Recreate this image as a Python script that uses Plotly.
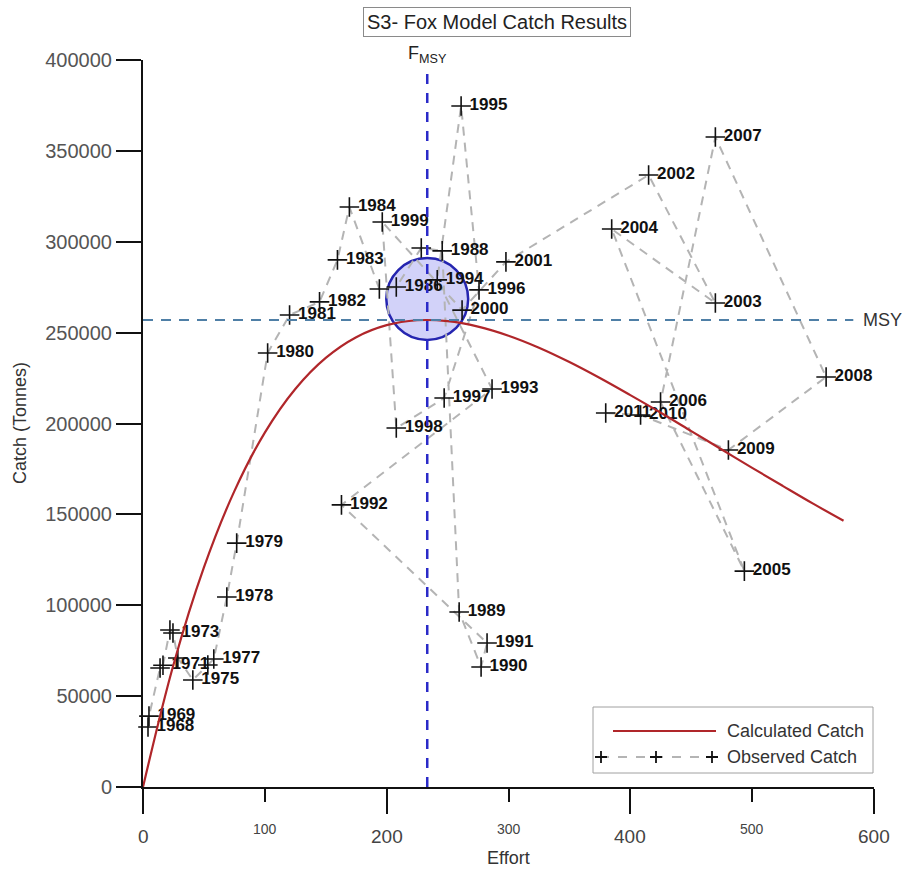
import plotly.graph_objects as go

# ---------------- data ----------------
years = list(range(1968, 2012))
effort = [4.1, 4.9, 14.0, 16.4, 22.1, 24.6, 28.6, 40.9, 53.2, 58.1, 68.8, 76.9,
          102.3, 120.3, 144.9, 159.6, 169.4, 194.0, 207.9, 228.4, 245.6, 259.5,
          277.5, 282.4, 162.9, 286.5, 241.5, 261.1, 275.8, 247.2, 207.9, 196.4,
          261.9, 297.9, 415.0, 469.8, 384.7, 493.6, 424.8, 469.8, 560.7, 480.5,
          408.4, 379.8]
catch = [33000, 39000, 65500, 67000, 86400, 84700, 71000, 58900, 67100, 70400,
         104500, 134200, 238800, 259700, 266900, 290000, 319100, 274000, 275100,
         296600, 295000, 96300, 66000, 79200, 155200, 219000, 279000, 374700,
         273500, 214000, 197500, 310900, 262400, 288900, 336700, 266300, 307000,
         118800, 211800, 357600, 225600, 185400, 204700, 205800]
hidden_labels = [1970, 1972, 1974, 1976, 1985, 1987]

calc_effort = [0, 25, 50, 75, 100, 125, 150, 175, 200, 225, 250, 275, 300, 325,
               350, 375, 400, 425, 450, 475, 500, 525, 550, 575]
calc_catch = [0, 67250, 120800, 162800, 195000, 219000, 236100, 247500, 254100,
              256800, 256300, 253300, 248300, 241700, 233800, 225000, 215600,
              205900, 195800, 185700, 175600, 165700, 155900, 146500]

F_MSY = 233.3
MSY = 257000
MSY_line_end = 583
FMSY_line_top = 394000
circle_center = (233.3, 268500)
circle_radius = (33.6, 22560)

x_major_ticks = [0, 200, 400, 600]
x_minor_ticks = [100, 300, 500]
y_ticks = [0, 50000, 100000, 150000, 200000, 250000, 300000, 350000, 400000]

# ---------------- layout geometry ----------------
W, H = 912, 872
L, R, T, B = 143, 38, 60, 85
PW, PH = W - L - R, H - T - B


def px(xp):
    return (xp - L) / PW


def py(yp):
    return (H - B - yp) / PH


FONT = "Liberation Sans, Arial, sans-serif"
lab_x = [e for e, y in zip(effort, years) if y not in hidden_labels]
lab_y = [c for c, y in zip(catch, years) if y not in hidden_labels]
lab_t = [str(y) for y in years if y not in hidden_labels]

fig = go.Figure()

fig.add_trace(go.Scatter(
    x=effort, y=catch, mode="lines+markers",
    line=dict(color="#b4b4b4", width=2, dash="9px,7px"),
    marker=dict(symbol="cross-thin", size=14, line=dict(color="#111", width=1.6)),
    showlegend=False, cliponaxis=False))

fig.add_trace(go.Scatter(
    x=lab_x, y=lab_y, mode="markers+text", text=lab_t, textposition="middle right",
    marker=dict(size=12, opacity=0),
    textfont=dict(family=FONT, size=17, color="#111", weight="bold"),
    showlegend=False, cliponaxis=False))

fig.add_trace(go.Scatter(
    x=calc_effort, y=calc_catch, mode="lines", line_shape="spline",
    line=dict(color="#b0262a", width=2.2), showlegend=False))

shapes = []
shapes.append(dict(type="line", xref="x", yref="y", x0=0, x1=MSY_line_end, y0=MSY, y1=MSY,
                   line=dict(color="#4f7fa6", width=2, dash="10px,8px")))
shapes.append(dict(type="line", xref="x", yref="y", x0=F_MSY, x1=F_MSY, y0=0, y1=FMSY_line_top,
                   line=dict(color="#2a2ac8", width=2.5, dash="10px,9px")))
shapes.append(dict(type="circle", xref="x", yref="y", layer="below",
                   x0=circle_center[0] - circle_radius[0], x1=circle_center[0] + circle_radius[0],
                   y0=circle_center[1] - circle_radius[1], y1=circle_center[1] + circle_radius[1],
                   fillcolor="rgba(180,180,245,0.6)", line=dict(color="#2525b0", width=2.5)))

# manual legend
shapes.append(dict(type="rect", xref="paper", yref="paper", x0=px(593), x1=px(873),
                   y0=py(773), y1=py(707), line=dict(color="#a0a0a0", width=1),
                   fillcolor="white"))
shapes.append(dict(type="line", xref="paper", yref="paper", x0=px(613), x1=px(716),
                   y0=py(731), y1=py(731), line=dict(color="#b0262a", width=2.2)))
shapes.append(dict(type="line", xref="paper", yref="paper", x0=px(600), x1=px(712),
                   y0=py(757), y1=py(757), line=dict(color="#b4b4b4", width=2, dash="9px,9px")))
for cx in (601, 656, 712):
    a = 6
    shapes.append(dict(type="path", xref="paper", yref="paper",
                       path=f"M {px(cx - a)} {py(757)} L {px(cx + a)} {py(757)} "
                            f"M {px(cx)} {py(757 - a)} L {px(cx)} {py(757 + a)}",
                       line=dict(color="#111", width=1.8)))

annotations = []
annotations.append(dict(xref="paper", yref="paper", x=px(725), y=py(731), xanchor="left",
                        yanchor="middle", text="Calculated Catch", showarrow=False,
                        font=dict(family=FONT, size=18, color="#333")))
annotations.append(dict(xref="paper", yref="paper", x=px(725), y=py(757), xanchor="left",
                        yanchor="middle", text="Observed Catch", showarrow=False,
                        font=dict(family=FONT, size=18, color="#333")))
annotations.append(dict(xref="paper", yref="paper", x=px(497), y=py(22), xanchor="center",
                        yanchor="middle", text="S3- Fox Model Catch Results", showarrow=False,
                        font=dict(family=FONT, size=20, color="#222"),
                        bordercolor="#8a8a8a", borderwidth=1, borderpad=3, bgcolor="white"))
annotations.append(dict(xref="x", yref="paper", x=F_MSY, y=py(55), xanchor="center",
                        yanchor="middle", text="F<sub>MSY</sub>", showarrow=False,
                        font=dict(family=FONT, size=18, color="#222")))
annotations.append(dict(xref="paper", yref="y", x=px(861), y=MSY, xanchor="left",
                        yanchor="middle", text="MSY", showarrow=False,
                        font=dict(family=FONT, size=18, color="#333")))
for v in x_major_ticks:
    annotations.append(dict(xref="x", yref="paper", x=v, y=py(836), xanchor="center",
                            yanchor="middle", text=str(v), showarrow=False,
                            font=dict(family=FONT, size=19, color="#444")))
for v in x_minor_ticks:
    annotations.append(dict(xref="x", yref="paper", x=v, y=py(829), xanchor="center",
                            yanchor="middle", text=str(v), showarrow=False,
                            font=dict(family=FONT, size=14, color="#444")))
annotations.append(dict(xref="paper", yref="paper", x=px(508), y=py(858), xanchor="center",
                        yanchor="middle", text="Effort", showarrow=False,
                        font=dict(family=FONT, size=18, color="#333")))
annotations.append(dict(xref="paper", yref="paper", x=px(20), y=py(423), xanchor="center",
                        yanchor="middle", text="Catch (Tonnes)", textangle=-90, showarrow=False,
                        font=dict(family=FONT, size=18, color="#333")))

fig.update_layout(
    width=W, height=H, autosize=False,
    margin=dict(l=L, r=R, t=T, b=B),
    paper_bgcolor="white", plot_bgcolor="white",
    shapes=shapes, annotations=annotations,
    xaxis=dict(range=[0, 600], showgrid=False, zeroline=False, showline=True,
               linecolor="#111", linewidth=2, ticks="outside", tickvals=x_major_ticks,
               ticklen=25, tickwidth=2, tickcolor="#111", showticklabels=False,
               minor=dict(tickvals=x_minor_ticks, ticks="outside", ticklen=13,
                          tickwidth=2, tickcolor="#111")),
    yaxis=dict(range=[0, 400000], showgrid=False, zeroline=False, showline=True,
               linecolor="#111", linewidth=2, ticks="outside", tickvals=y_ticks,
               ticktext=[str(v) for v in y_ticks], ticklen=25, tickwidth=2,
               tickcolor="#111", tickfont=dict(family=FONT, size=20, color="#555")),
)

fig.write_html("out.html", post_script="document.body.style.margin='0';",
               config={"displayModeBar": False})
